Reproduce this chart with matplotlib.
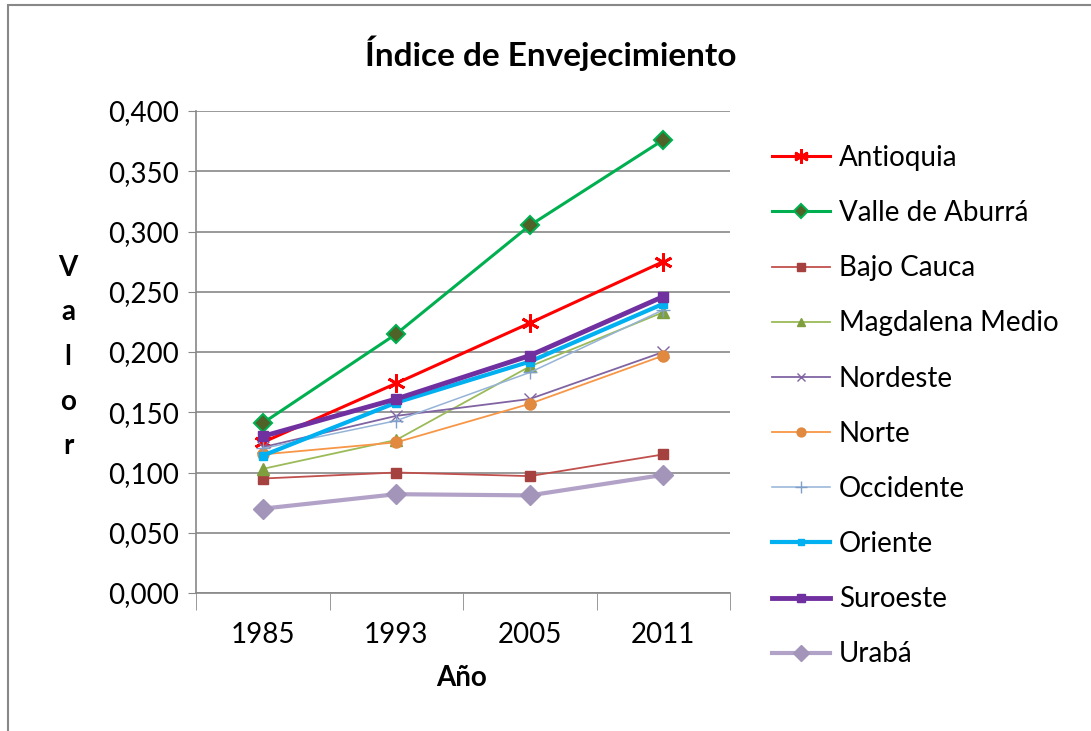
import matplotlib
matplotlib.use("Agg")
import matplotlib.pyplot as plt
from matplotlib.patches import Rectangle

years = ["1985", "1993", "2005", "2011"]
antioquia = [0.125, 0.174, 0.224, 0.275]
valle = [0.141, 0.215, 0.305, 0.376]
bajo_cauca = [0.095, 0.100, 0.097, 0.115]
magdalena = [0.103, 0.127, 0.188, 0.233]
nordeste = [0.121, 0.147, 0.161, 0.200]
norte = [0.115, 0.125, 0.157, 0.197]
occidente = [0.120, 0.143, 0.183, 0.235]
oriente = [0.114, 0.158, 0.192, 0.240]
suroeste = [0.130, 0.161, 0.197, 0.246]
uraba = [0.070, 0.082, 0.081, 0.098]
yticks = [0.0, 0.05, 0.1, 0.15, 0.2, 0.25, 0.3, 0.35, 0.4]

plt.rcParams['font.family'] = ['Lato', 'DejaVu Sans']

fig = plt.figure(figsize=(10.91, 7.31), dpi=100)
ax = fig.add_axes([196/1091, 1-593/731, (730-196)/1091, (593-111)/731])

x = list(range(len(years)))
series = [
    ("Antioquia", antioquia, dict(color="#FF0000", lw=2.2, marker=(6, 2, 0), ms=13, mew=2, mec="#FF0000")),
    ("Valle de Aburrá", valle, dict(color="#00B050", lw=2.2, marker="D", ms=9, mfc="#4F6228", mec="#00B050", mew=1.5)),
    ("Bajo Cauca", bajo_cauca, dict(color="#C0504D", lw=1.3, marker="s", ms=7, mfc="#A5423F", mec="#A5423F")),
    ("Magdalena Medio", magdalena, dict(color="#9BBB59", lw=1.3, marker="^", ms=8, mfc="#7F9F3F", mec="#7F9F3F")),
    ("Nordeste", nordeste, dict(color="#8064A2", lw=1.3, marker="x", ms=8, mew=1, mec="#8064A2")),
    ("Norte", norte, dict(color="#F79646", lw=1.3, marker="o", ms=8, mfc="#E0893F", mec="#E0893F")),
    ("Occidente", occidente, dict(color="#95B3D7", lw=1.1, marker="+", ms=10, mew=1, mec="#7F9FC8")),
    ("Oriente", oriente, dict(color="#00B0F0", lw=3, marker="s", ms=6, mfc="#00B0F0", mec="#00B0F0")),
    ("Suroeste", suroeste, dict(color="#7030A0", lw=3.5, marker="s", ms=7, mfc="#7030A0", mec="#7030A0")),
    ("Urabá", uraba, dict(color="#B3A2C7", lw=3, marker="D", ms=10, mfc="#A394BA", mec="#A394BA")),
]
for name, vals, st in series:
    ax.plot(x, vals, label=name, **st)

ax.set_xlim(-0.5, 3.5)
ax.set_ylim(0, 0.4)
ax.set_yticks(yticks)
ax.set_yticklabels([f"{v:.3f}".replace(".", ",") for v in yticks], fontsize=20)
ax.set_xticks(x)
ax.set_xticklabels(years, fontsize=20)
ax.tick_params(axis='x', length=0, pad=21)
ax.tick_params(axis='y', length=6, color="#888888", pad=6, direction='out')
ax.set_xticks([-0.5, 0.5, 1.5, 2.5, 3.5], minor=True)
ax.tick_params(axis='x', which='minor', length=12, color="#888888", direction='out')
ax.grid(axis='y', color="#888888", lw=1.2)
ax.set_axisbelow(True)
for s in ["top", "right"]:
    ax.spines[s].set_visible(False)
ax.spines["left"].set_color("#888888")
ax.spines["bottom"].set_color("#888888")
ax.spines["left"].set_linewidth(1.2)
ax.spines["bottom"].set_linewidth(1.2)

fig.text(551/1091, 1-53/731, "Índice de Envejecimiento", ha="center", va="center",
         fontsize=24, fontweight="bold")
fig.text(462/1091, 1-678/731, "Año", ha="center", va="center", fontsize=20, fontweight="bold")
for i, ch in enumerate("Valor"):
    fig.text(68/1091, 1-(268+44.5*i)/731, ch, ha="center", va="center", fontsize=20, fontweight="bold")

leg = ax.legend(loc="upper left", bbox_to_anchor=(772/1091, 1-145/731), bbox_transform=fig.transFigure,
                frameon=False, fontsize=20, labelspacing=1.05, handlelength=2.1, handletextpad=0.3,
                borderaxespad=0, borderpad=0, markerscale=0.8)

fig.patches.append(Rectangle((8/1091, -0.1), 1.2, 1.1-5/731, transform=fig.transFigure, fill=False,
                             edgecolor="#888888", lw=1.5))

fig.savefig("out.png", dpi=100)
